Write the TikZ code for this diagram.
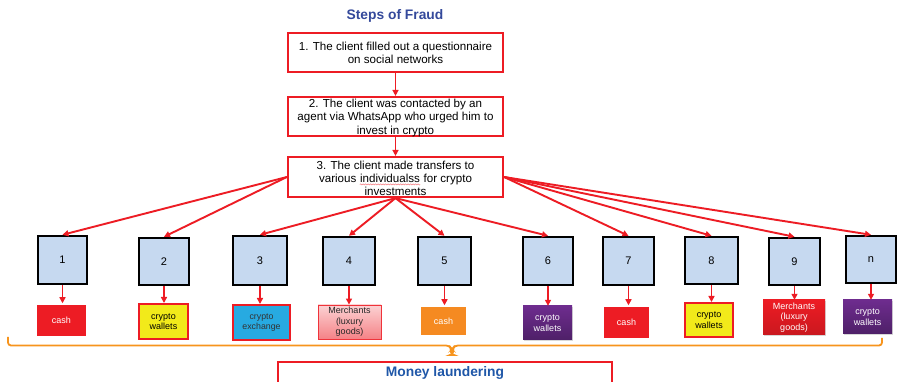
\documentclass[tikz,border=0pt]{standalone}
\usepackage{fontspec}
\setmainfont{Liberation Sans}
\usetikzlibrary{arrows.meta,shadows,decorations.pathmorphing}
\definecolor{fraudred}{HTML}{ED1C24}
\definecolor{titleblue}{HTML}{34499B}
\definecolor{mlblue}{HTML}{1F57A8}
\definecolor{sqfill}{HTML}{C6D9F0}
\definecolor{cyanbox}{HTML}{27AAE1}
\definecolor{yellowbox}{HTML}{F2EA1A}
\definecolor{orangebox}{HTML}{F58A21}
\definecolor{purpletop}{HTML}{6E2C8E}
\definecolor{purplebot}{HTML}{4E2068}
\definecolor{bracecol}{HTML}{F7941D}
\tikzset{
  stepfont/.style={font=\fontsize{11.6}{13.2}\selectfont},
  stepbox/.style={draw=fraudred, line width=2.2pt, fill=white, minimum width=215pt, align=center, inner sep=0pt, stepfont},
  sq/.style={draw=black, line width=2.4pt, fill=sqfill, font=\fontsize{11}{13}\selectfont, inner sep=0pt},
  cbox/.style={inner sep=0pt, align=center, font=\fontsize{9}{10.5}\selectfont},
  shad/.style={draw=white, line width=1.5pt, drop shadow={shadow xshift=0.8pt, shadow yshift=-0.8pt, opacity=0.35}},
  redarr/.style={draw=fraudred, line width=1.9pt, -{Triangle[length=6pt,width=6pt]}},
}
\begin{document}
\begin{tikzpicture}[x=1pt,y=-1pt]
\useasboundingbox (0,0) rectangle (898,382);
\clip (0,0) rectangle (898,382);
\fill[white] (0,0) rectangle (898,382);
% title
\node[font=\fontsize{13.8}{16}\selectfont\bfseries, text=titleblue] (title) at (395,16) {Steps of Fraud};
% steps
\node[stepbox, minimum height=39pt] (s1) at (395.5,52.5) {1. The client filled out a questionnaire\\on social networks};
\node[stepbox, minimum height=39pt] (s2) at (395.5,116.5) {};
\node[align=center, inner sep=0pt, stepfont] (s2t) at (395.5,118) {2. The client was contacted by an\\agent via WhatsApp who urged him to\\invest in crypto};
\node[stepbox, minimum height=40pt] (s3) at (395.5,177) {};
\node[align=center, inner sep=0pt, stepfont] (s3t) at (395.5,178.5) {3. The client made transfers to\\various \tikz[baseline=(w.base)]{\node[inner sep=0pt] (w) {individualss}; \draw[fraudred!70, line width=0.4pt, decorate, decoration={snake, amplitude=0.6pt, segment length=2.5pt}] ([yshift=-1.5pt]w.south west) -- ([yshift=-1.5pt]w.south east);} for crypto\\investments};
% squares
\node[sq, minimum width=49pt, minimum height=48pt] (b1) at (62.5,260) {1};
\node[sq, minimum width=50pt, minimum height=47pt] (b2) at (164,261.5) {2};
\node[sq, minimum width=54pt, minimum height=49pt] (b3) at (260,260.5) {3};
\node[sq, minimum width=52pt, minimum height=48pt] (b4) at (349,261) {4};
\node[sq, minimum width=53pt, minimum height=48pt] (b5) at (444.5,261) {5};
\node[sq, minimum width=50pt, minimum height=48pt] (b6) at (548,261) {6};
\node[sq, minimum width=51pt, minimum height=48pt] (b7) at (628.5,261) {7};
\node[sq, minimum width=53pt, minimum height=47pt] (b8) at (711.5,260.5) {8};
\node[sq, minimum width=51pt, minimum height=47pt] (b9) at (794.5,261.5) {9};
\node[sq, minimum width=50pt, minimum height=47pt] (bn) at (871,259.5) {n};
% coloured boxes
\node[cbox, shad, fill=fraudred, text=white, minimum width=51pt, minimum height=33pt] (c1) at (61.5,320.5) {cash};
\node[cbox, draw=fraudred, line width=2pt, fill=yellowbox, minimum width=49pt, minimum height=35pt] (c2) at (163.5,321.5) {crypto\\wallets};
\node[cbox, draw=fraudred, line width=2pt, fill=cyanbox, text=black!80, minimum width=57pt, minimum height=35pt, font=\fontsize{8.8}{9.8}\selectfont] (c3) at (261.5,322.5) {crypto\\exchange};
\node[cbox, draw=fraudred!90, line width=0.9pt, top color=fraudred!20, bottom color=fraudred!55, text=black!85, minimum width=63pt, minimum height=34pt] (c4) at (349.5,322) {Merchants\\(luxury\\goods)};
\node[cbox, shad, fill=orangebox, text=white, minimum width=47pt, minimum height=30pt] (c5) at (443.5,321) {cash};
\node[cbox, top color=purpletop, bottom color=purplebot, text=white, minimum width=49pt, minimum height=34pt, drop shadow={shadow xshift=0.8pt, shadow yshift=-0.8pt, opacity=0.3}] (c6) at (547.5,323) {crypto\\wallets};
\node[cbox, shad, fill=fraudred, text=white, minimum width=47pt, minimum height=33pt] (c7) at (626.5,322.5) {cash};
\node[cbox, draw=fraudred, line width=2pt, fill=yellowbox, minimum width=48pt, minimum height=34pt] (c8) at (709,320) {crypto\\wallets};
\node[cbox, top color=fraudred, bottom color=fraudred!85!black, text=white, minimum width=62pt, minimum height=35pt, drop shadow={shadow xshift=0.8pt, shadow yshift=-0.8pt, opacity=0.3}] (c9) at (794,317.5) {Merchants\\(luxury\\goods)};
\node[cbox, top color=purpletop, bottom color=purplebot, text=white, minimum width=49pt, minimum height=34pt, drop shadow={shadow xshift=0.8pt, shadow yshift=-0.8pt, opacity=0.3}] (cn) at (867.5,317) {crypto\\wallets};
% money laundering
\node[draw=fraudred, line width=2.2pt, fill=white, minimum width=334pt, minimum height=34pt, anchor=north, inner sep=0pt] (ml) at (445,361) {};
\node[font=\fontsize{13.8}{16}\selectfont\bfseries, text=mlblue] (mlt) at (445,373) {Money laundering};
% arrows between steps
\draw[redarr] (s1.south) -- (s2.north);
\draw[redarr] (s2.south) -- (s3.north);
% arrows to squares
\draw[redarr] (s3.west) -- (b1.north);
\draw[redarr] (s3.west) -- (b2.north);
\draw[redarr] (s3.south) -- (b3.north);
\draw[redarr] (s3.south) -- (b4.north);
\draw[redarr] (s3.south) -- (b5.north);
\draw[redarr] (s3.south) -- (b6.north);
\draw[redarr] (s3.east) -- (b7.north);
\draw[redarr] (s3.east) -- (b8.north);
\draw[redarr] (s3.east) -- (b9.north);
\draw[redarr] (s3.east) -- (bn.north);
% arrows to coloured boxes
\foreach \b/\c in {b1/c1,b2/c2,b3/c3,b4/c4,b5/c5,b6/c6,b7/c7,b8/c8,b9/c9,bn/cn}
  \draw[redarr] (\b.south) -- (\b.south |- \c.north);
% brace
\coordinate (brl) at (8,337);
\coordinate (brm) at (452,355);
\coordinate (brr) at (882,338);
\draw[bracecol, line width=1.8pt, rounded corners=3pt] (brl) -- (8,345.5) -- (449,345.5) -- (451,348) |- (brm);
\draw[bracecol, line width=1.8pt, rounded corners=3pt] (brr) -- (882,345.5) -- (455,345.5) -- (453,348) |- (brm);
\end{tikzpicture}
\end{document}
